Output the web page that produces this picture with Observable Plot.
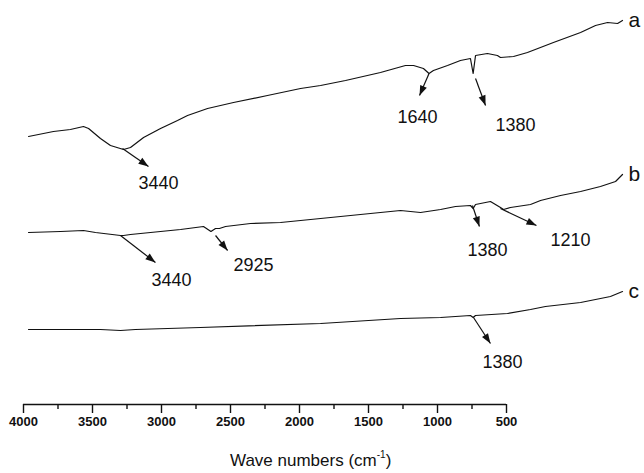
<!DOCTYPE html>
<html>
<head>
<meta charset="utf-8">
<script src="https://cdn.jsdelivr.net/npm/d3@7"></script>
<script src="https://cdn.jsdelivr.net/npm/@observablehq/plot@0.6"></script>
<style>
  html, body { margin: 0; padding: 0; background: #fff; }
  #wrap { position: relative; width: 644px; height: 473px; overflow: hidden; font-family: "Liberation Sans", Arial, sans-serif; }
  #wrap svg { position: absolute; left: 0; top: 0; }
  #xtitle { position: absolute; left: 230px; top: 452px; font-size: 17px; line-height: 1; color: #111; white-space: nowrap; }
  #xtitle sup { font-size: 10px; vertical-align: 0; position: relative; top: -8px; }
</style>
</head>
<body>
<div id="wrap"><div id="xtitle">Wave numbers (cm<sup>-1</sup>)</div></div>
<script>
// ---- axis ticks (cm^-1)
const majorTicks = [4000, 3500, 3000, 2500, 2000, 1500, 1000, 500];
const minorTicks = [3750, 3250, 2750, 2250, 1750, 1250, 750];

// ---- spectrum a (wave number, transmittance a.u.)
const waveA = [4000, 3853, 3753, 3676, 3646, 3576, 3517, 3440, 3399, 3322, 3222, 3122, 3063, 2945, 2792, 2592, 2397, 2279, 2132, 1926, 1779, 1731, 1673, 1640, 1614, 1531, 1455, 1396, 1380, 1366, 1296, 1237, 1219, 1142, 1060, 907, 747, 659, 588, 529, 500];
const transA = [264, 269, 271, 274, 272, 262, 255, 251, 253, 263, 272, 280, 285, 292, 298, 305, 312, 315, 320, 328, 335, 335, 332, 327, 330, 335, 340, 342, 327, 345, 347, 345, 343, 344, 348, 358, 368, 375, 378, 377, 380];

// ---- spectrum b
const waveB = [4000, 3811, 3676, 3605, 3458, 3440, 3399, 3281, 3104, 2969, 2925, 2898, 2875, 2839, 2692, 2515, 2279, 1985, 1808, 1690, 1572, 1484, 1396, 1380, 1366, 1278, 1219, 1201, 1160, 1042, 983, 865, 747, 630, 541, 500];
const transB = [168, 169, 170, 168, 165, 165, 166, 168, 171, 174, 169, 172, 172, 174, 177, 178, 182, 187, 190, 188, 191, 194, 195, 192, 196, 199, 193, 191, 193, 196, 200, 205, 209, 214, 219, 226];

// ---- spectrum c
const waveC = [4000, 3576, 3458, 3370, 2987, 2279, 1808, 1572, 1396, 1380, 1366, 1178, 1042, 954, 747, 571, 500];
const transC = [71, 71, 70, 71, 73, 77, 82, 83, 85, 83, 85, 87, 91, 94, 98, 104, 109];

// ---- peak annotations
const peakSeries = ["a", "a", "a", "b", "b", "b", "b", "c"];
const peakText   = ["3440", "1640", "1380", "3440", "2925", "1380", "1210", "1380"];
const arrowFromX = [3446, 1640, 1366, 3458, 2898, 1384, 1219, 1378];
const arrowFromY = [252, 327, 322, 165, 165, 195, 192, 83];
const arrowToX   = [3293, 1696, 1307, 3252, 2827, 1343, 1007, 1278];
const arrowToY   = [234, 305, 295, 138, 150, 174, 175, 57];
const labelX     = [3234, 1708, 1131, 3157, 2674, 1296, 806, 1207];
const labelY     = [212, 278, 270, 115, 130, 145, 155, 33];

const seriesNames = ["a", "b", "c"];

// ---- tables
const spectra = [
  ...waveA.map((w, i) => ({series: "a", wave: w, t: transA[i]})),
  ...waveB.map((w, i) => ({series: "b", wave: w, t: transB[i]})),
  ...waveC.map((w, i) => ({series: "c", wave: w, t: transC[i]}))
];
const ends = seriesNames.map(s => {
  const pts = spectra.filter(d => d.series === s);
  return pts[pts.length - 1];
});
const peaks = peakText.map((p, i) => ({
  series: peakSeries[i], text: p,
  x1: arrowFromX[i], y1: arrowFromY[i], x2: arrowToX[i], y2: arrowToY[i],
  lx: labelX[i], ly: labelY[i]
}));

const font = "'Liberation Sans', Arial, sans-serif";
const ink = "#111";

// ---- axis layer
const axisPlot = Plot.plot({
  width: 644, height: 473,
  marginLeft: 23, marginRight: 138, marginTop: 0, marginBottom: 69,
  style: {fontFamily: font, color: ink, background: "transparent"},
  x: {domain: [4000, 500]},
  y: {domain: [0, 1], axis: null},
  marks: [
    Plot.ruleY([0], {stroke: ink, strokeWidth: 1.4}),
    Plot.axisX({ticks: majorTicks, tickSize: 9, tickPadding: 3, strokeWidth: 1.4,
      tickFormat: d => String(d), fontSize: 13, fontWeight: "bold", label: null}),
    Plot.axisX({ticks: minorTicks, tickSize: 5, strokeWidth: 1.4,
      tickFormat: () => "", label: null})
  ]
});

// ---- spectra layer
const specPlot = Plot.plot({
  width: 644, height: 473,
  marginLeft: 28, marginRight: 22, marginTop: 0, marginBottom: 73,
  style: {fontFamily: font, color: ink, background: "transparent"},
  x: {domain: [4000, 500], axis: null},
  y: {domain: [0, 400], range: [400, 0], axis: null},
  marks: [
    Plot.line(spectra, {x: "wave", y: "t", z: "series", stroke: ink, strokeWidth: 1.2, strokeLinejoin: "round"}),
    Plot.text(ends, {x: "wave", y: "t", text: "series", dx: 6, textAnchor: "start", lineAnchor: "middle", fontSize: 21, fill: ink}),
    Plot.link(peaks, {x1: "x1", y1: "y1", x2: "x2", y2: "y2", stroke: ink, strokeWidth: 1.2, markerEnd: "arrow"}),
    Plot.text(peaks, {x: "lx", y: "ly", text: "text", textAnchor: "middle", lineAnchor: "bottom", fontSize: 18, fill: ink})
  ]
});

// filled arrowheads
specPlot.querySelectorAll("marker").forEach(m => {
  m.setAttribute("viewBox", "-10 -5 10 10");
  m.setAttribute("markerUnits", "userSpaceOnUse");
  m.setAttribute("markerWidth", "10");
  m.setAttribute("markerHeight", "10");
  m.setAttribute("overflow", "visible");
  m.setAttribute("fill", ink);
  m.setAttribute("stroke", "none");
  const p = m.querySelector("path");
  if (p) p.setAttribute("d", "M-10,-3.6L0,0L-10,3.6Z");
});

const wrap = document.getElementById("wrap");
wrap.insertBefore(axisPlot, wrap.firstChild);
wrap.insertBefore(specPlot, axisPlot.nextSibling);
</script>
</body>
</html>
